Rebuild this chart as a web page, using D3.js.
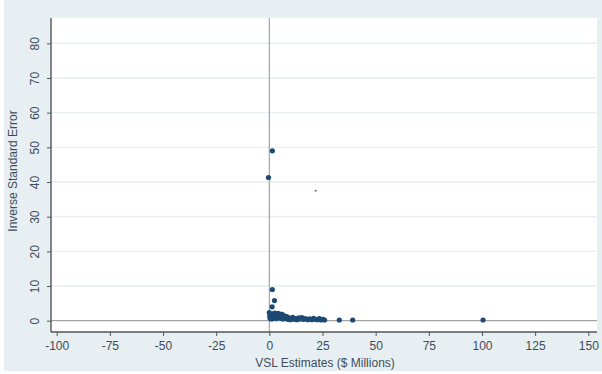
<!DOCTYPE html>
<html>
<head>
<meta charset="utf-8">
<script src="https://cdn.jsdelivr.net/npm/d3@7"></script>
<style>
  body { margin: 0; background: #ffffff; }
  text { font-family: Arial, "Liberation Sans", sans-serif; }
</style>
</head>
<body>
<div id="chart"></div>
<script>
// VSL estimates ($ millions) and inverse standard error
const vsl = [1.4, -0.4, 1.4, 2.4, 1.3, 0.0,
  0.2, 0.4, 0.6, 0.8, 1.0, 1.2, 1.5, 1.7, 2.0, 2.2, 2.5, 2.8, 3.0, 3.3, 3.6, 4.0,
  4.3, 4.6, 5.0, 5.3, 5.6, 6.0, 6.3, 6.7, 7.0, 7.4, 7.8, 8.2, 8.7, 9.2, 9.8, 10.4,
  11.0, 11.6, 12.3, 13.0, 13.8, 14.5, 15.3, 16.0, 17.0, 18.0, 19.0, 20.0, 20.8,
  21.6, 22.5, 23.5, 24.3, 25.2, 26.0, 32.9, 39.2, 100.5];
const invSE = [49.0, 41.3, 9.0, 5.8, 4.0, 2.3,
  1.2, 0.6, 1.8, 0.9, 1.4, 0.5, 2.0, 1.1, 0.7, 1.6, 2.2, 1.0, 1.7, 0.6, 1.3, 2.1,
  0.9, 1.5, 1.9, 0.7, 1.2, 1.8, 0.5, 1.1, 1.4, 0.6, 0.9, 1.2, 0.4, 0.8, 0.3, 0.7,
  1.0, 0.4, 0.6, 0.3, 0.8, 0.5, 0.9, 0.4, 0.6, 0.3, 0.5, 0.3, 0.7,
  0.4, 0.3, 0.6, 0.2, 0.4, 0.2, 0.2, 0.2, 0.2];
// single small marker
const smallX = [21.8];
const smallY = [37.5];

const xTicks = [-100, -75, -50, -25, 0, 25, 50, 75, 100, 125, 150];
const yTicks = [0, 10, 20, 30, 40, 50, 60, 70, 80];

const width = 602, height = 374;
const plot = { left: 51, right: 597, top: 18, bottom: 332 };

const svg = d3.select('#chart').append('svg')
  .attr('width', width).attr('height', height);

svg.append('rect').attr('x', 4).attr('y', 0).attr('width', width - 4).attr('height', height - 3)
  .attr('fill', '#e8eff2');

svg.append('rect')
  .attr('x', plot.left).attr('y', plot.top)
  .attr('width', plot.right - plot.left).attr('height', plot.bottom - plot.top)
  .attr('fill', '#ffffff');

const x = d3.scaleLinear().domain([-100, 150]).range([56.7, 588.3]);
const y = d3.scaleLinear().domain([0, 80]).range([320.7, 43.3]);

// faint grid lines
svg.append('g').selectAll('line').data(yTicks.filter(d => d !== 0)).enter()
  .append('line')
  .attr('x1', plot.left).attr('x2', plot.right)
  .attr('y1', d => y(d)).attr('y2', d => y(d))
  .attr('stroke', '#e6eff2').attr('stroke-width', 1.4);

// zero reference lines
svg.append('line')
  .attr('x1', plot.left).attr('x2', plot.right)
  .attr('y1', y(0)).attr('y2', y(0))
  .attr('stroke', '#a4a4a4').attr('stroke-width', 1.2);
svg.append('line')
  .attr('x1', x(0)).attr('x2', x(0))
  .attr('y1', plot.top).attr('y2', plot.bottom)
  .attr('stroke', '#a4a4a4').attr('stroke-width', 1.2);

// axes
const fmt = d => String(d);
const xAxis = svg.append('g')
  .attr('transform', `translate(0,${plot.bottom})`)
  .call(d3.axisBottom(x).tickValues(xTicks).tickFormat(fmt).tickSize(4).tickPadding(5).tickSizeOuter(0));
const yAxis = svg.append('g')
  .attr('transform', `translate(${plot.left},0)`)
  .call(d3.axisLeft(y).tickValues(yTicks).tickFormat(fmt).tickSize(4).tickPadding(5).tickSizeOuter(0));

[xAxis, yAxis].forEach(ax => {
  ax.select('.domain').remove();
  ax.selectAll('.tick line').attr('stroke', '#555');
  ax.selectAll('.tick text').attr('fill', '#3d4c5c').attr('font-size', '12px');
});

svg.append('line')
  .attr('x1', plot.left).attr('x2', plot.right)
  .attr('y1', plot.bottom).attr('y2', plot.bottom)
  .attr('stroke', '#555').attr('stroke-width', 1.4);
svg.append('line')
  .attr('x1', plot.left).attr('x2', plot.left)
  .attr('y1', plot.top).attr('y2', plot.bottom)
  .attr('stroke', '#555').attr('stroke-width', 1.4);

// rotate y tick labels
yAxis.selectAll('.tick text')
  .attr('transform', 'rotate(-90)')
  .attr('text-anchor', 'middle')
  .attr('x', 0).attr('dy', 0)
  .attr('y', -12);

// titles
svg.append('text')
  .attr('x', 325).attr('y', 367)
  .attr('text-anchor', 'middle')
  .attr('font-size', '12px').attr('fill', '#3d4c5c')
  .text('VSL Estimates ($ Millions)');
svg.append('text')
  .attr('transform', 'translate(17,171) rotate(-90)')
  .attr('text-anchor', 'middle')
  .attr('font-size', '12px').attr('fill', '#3d4c5c')
  .text('Inverse Standard Error');

// points
svg.append('g').selectAll('circle')
  .data(vsl.map((v, i) => [v, invSE[i]])).enter()
  .append('circle')
  .attr('cx', d => x(d[0])).attr('cy', d => y(d[1]))
  .attr('r', 2.6)
  .attr('fill', '#1d4a74');

svg.append('g').selectAll('circle')
  .data(smallX.map((v, i) => [v, smallY[i]])).enter()
  .append('circle')
  .attr('cx', d => x(d[0])).attr('cy', d => y(d[1]))
  .attr('r', 1)
  .attr('fill', '#666');
</script>
</body>
</html>
